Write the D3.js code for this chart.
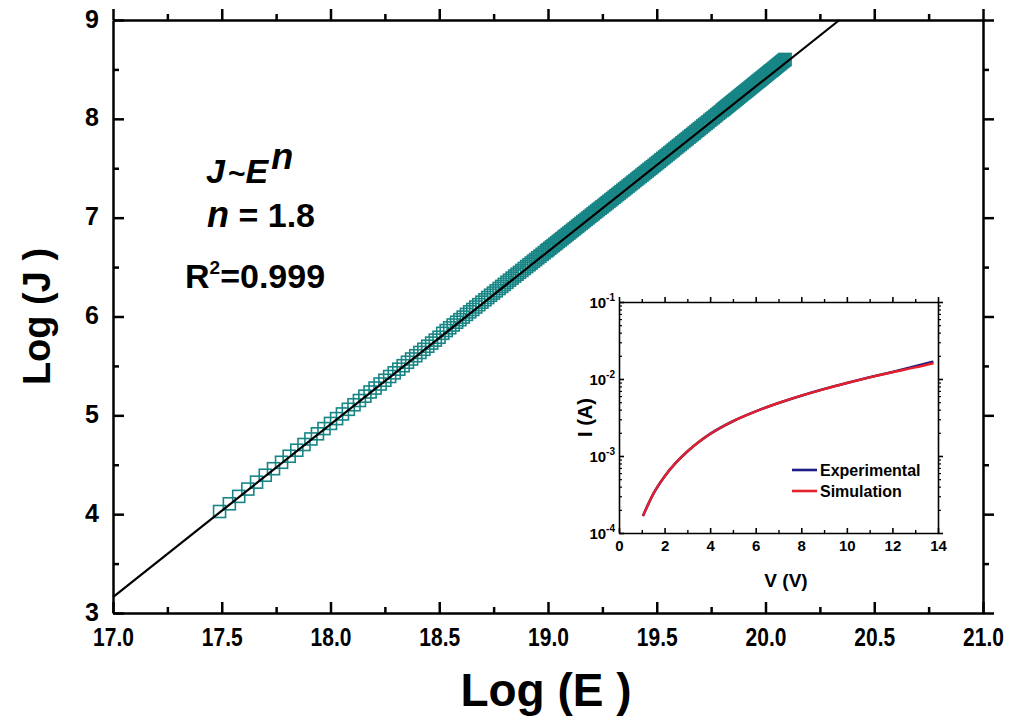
<!DOCTYPE html>
<html><head><meta charset="utf-8">
<script src="https://cdn.jsdelivr.net/npm/d3@7"></script>
<style>
body{margin:0;background:#fff}
svg{display:block}
text{font-family:"Liberation Sans",Arial,sans-serif;font-weight:bold;fill:#000}
</style>
</head><body>
<svg id="c" width="1019" height="719"></svg>
<script>
// ---------------- data ----------------
const logE = [
17.490,17.535,17.578,17.620,17.660,17.700,17.738,17.775,17.810,17.845,17.878,17.910,17.940,17.970,18.000,
18.028,18.055,18.082,18.108,18.133,18.158,18.182,18.205,18.228,18.250,18.272,18.293,18.314,18.334,18.354,
18.373,18.392,18.411,18.429,18.447,18.465,18.482,18.499,18.516,18.532,18.548,18.564,18.580,18.595,18.610,
18.625,18.640,18.654,18.668,18.682,18.696,18.710,18.723,18.736,18.749,18.762,18.775,18.787,18.799,18.811,
18.823,18.835,18.847,18.858,18.869,18.880,18.891,18.902,18.913,18.923,18.933,18.943,18.953,18.963,18.973,
18.983,18.993,
19.000,19.008,19.016,19.024,19.032,19.040,19.048,19.056,19.064,19.072,19.080,19.088,19.096,19.104,19.112,
19.120,19.128,19.136,19.144,19.152,19.160,19.168,19.176,19.184,19.192,19.200,19.208,19.216,19.224,19.232,
19.240,19.248,19.256,19.264,19.272,19.280,19.288,19.296,19.304,19.312,19.320,19.328,19.336,19.344,19.352,
19.360,19.368,19.376,19.384,19.392,19.400,19.408,19.416,19.424,19.432,19.440,19.448,19.456,19.464,19.472,
19.480,19.488,19.496,19.504,19.512,19.520,19.528,19.536,19.544,19.552,19.560,19.568,19.576,19.584,19.592,
19.600,19.608,19.616,19.624,19.632,19.640,19.648,19.656,19.664,19.672,19.680,19.688,19.696,19.704,19.712,
19.720,19.728,19.736,19.744,19.752,19.760,19.768,19.776,19.784,19.792,19.800,
19.805,19.810,19.815,19.820,19.825,19.830,19.835,19.840,19.845,19.850,19.855,19.860,19.865,19.870,19.875,
19.880,19.885,19.890,19.895,19.900,19.905,19.910,19.915,19.920,19.925,19.930,19.935,19.940,19.945,19.950,
19.955,19.960,19.965,19.970,19.975,19.980,19.985,19.990,19.995,20.000,20.005,20.010,20.015,20.020,20.025,
20.030,20.035,20.040,20.045,20.050,20.055,20.060,20.065,20.070,20.075,20.080,20.085,20.090
];
const logJ = [
4.027,4.105,4.180,4.254,4.324,4.394,4.460,4.525,4.586,4.647,4.705,4.761,4.813,4.866,4.918,
4.967,5.014,5.061,5.107,5.150,5.194,5.236,5.276,5.317,5.355,5.393,5.430,5.467,5.502,5.537,
5.570,5.603,5.636,5.668,5.699,5.731,5.761,5.790,5.830,5.858,5.886,5.914,5.942,5.968,5.994,
6.021,6.047,6.071,6.096,6.120,6.145,6.169,6.192,6.215,6.237,6.260,6.283,6.304,6.325,6.346,
6.367,6.388,6.409,6.428,6.447,6.466,6.486,6.505,6.524,6.541,6.559,6.576,6.594,6.611,6.629,
6.646,6.664,
6.676,6.690,6.704,6.718,6.732,6.746,6.760,6.774,6.788,6.802,6.816,6.830,6.844,6.858,6.872,
6.886,6.900,6.914,6.928,6.942,6.956,6.970,6.984,6.998,7.012,7.026,7.040,7.054,7.068,7.082,
7.096,7.109,7.123,7.137,7.151,7.165,7.179,7.193,7.207,7.221,7.235,7.249,7.263,7.277,7.291,
7.305,7.319,7.333,7.347,7.361,7.375,7.389,7.403,7.417,7.431,7.445,7.459,7.473,7.487,7.501,
7.515,7.529,7.543,7.557,7.571,7.586,7.600,7.614,7.628,7.643,7.657,7.671,7.685,7.700,7.714,
7.728,7.742,7.757,7.771,7.785,7.799,7.814,7.828,7.842,7.856,7.871,7.885,7.899,7.913,7.928,
7.942,7.956,7.970,7.985,7.999,8.013,8.027,8.042,8.056,8.070,8.084,
8.093,8.102,8.111,8.120,8.129,8.138,8.147,8.156,8.165,8.173,8.182,8.191,8.200,8.209,8.218,
8.227,8.236,8.245,8.254,8.263,8.271,8.280,8.289,8.298,8.307,8.316,8.325,8.334,8.343,8.352,
8.361,8.370,8.379,8.387,8.396,8.405,8.414,8.423,8.432,8.441,8.450,8.459,8.468,8.477,8.486,
8.494,8.503,8.512,8.521,8.530,8.539,8.548,8.557,8.566,8.575,8.584,8.593,8.601
];
const fitE = [17.0, 20.34];
const fitJ = [3.16, 9.0];
const xTicks = [17.0, 17.5, 18.0, 18.5, 19.0, 19.5, 20.0, 20.5, 21.0];
const xMinor = [17.25, 17.75, 18.25, 18.75, 19.25, 19.75, 20.25, 20.75];
const yTicks = [3, 4, 5, 6, 7, 8, 9];
const yMinor = [3.5, 4.5, 5.5, 6.5, 7.5, 8.5];

// inset I-V data
const insetV    = [1.05, 1.5, 2.0, 2.5, 3.0, 3.5, 4.0, 5.0, 6.0, 7.0, 8.0, 9.0, 10.0, 11.0, 12.0, 13.0, 13.8];
const insetIexp = [1.66e-4, 3.20e-4, 5.43e-4, 8.20e-4, 1.146e-3, 1.52e-3, 1.936e-3, 2.83e-3, 3.80e-3, 4.88e-3, 6.07e-3, 7.40e-3, 8.87e-3, 1.052e-2, 1.236e-2, 1.462e-2, 1.679e-2];
const insetIsim = [1.66e-4, 3.20e-4, 5.43e-4, 8.20e-4, 1.146e-3, 1.52e-3, 1.936e-3, 2.83e-3, 3.80e-3, 4.88e-3, 6.07e-3, 7.40e-3, 8.87e-3, 1.050e-2, 1.225e-2, 1.413e-2, 1.603e-2];
const insetXTicks = [0, 2, 4, 6, 8, 10, 12, 14];
const insetXMinor = [1, 3, 5, 7, 9, 11, 13];
const insetYExp = [-4, -3, -2, -1];
const legendLabels = ["Experimental", "Simulation"];
const legendColors = ["#1b1b8a", "#e4202a"];

// ---------------- drawing ----------------
const svg = d3.select("#c");
const x = d3.scaleLinear([17, 21], [113, 983]);
const y = d3.scaleLinear([3, 9], [613, 20]);

function styleAxis(g, w) {
  g.select(".domain").attr("stroke", "#000").attr("stroke-width", w);
  g.selectAll(".tick line").attr("stroke", "#000").attr("stroke-width", w);
}

// main axes
const gb = svg.append("g").attr("transform", `translate(0,${y(3)})`)
  .call(d3.axisBottom(x).tickValues(xTicks).tickSize(-11).tickSizeOuter(0).tickPadding(15).tickFormat(d3.format(".1f")));
styleAxis(gb, 2.5);
gb.selectAll("text").style("font-size", "25px").attr("fill", "#000").attr("transform", "scale(0.84,1)");
svg.append("g").attr("transform", `translate(0,${y(3)})`)
  .call(d3.axisBottom(x).tickValues(xMinor).tickSize(-6).tickFormat(""))
  .call(g => { g.select(".domain").remove(); styleAxis(g, 2.5); });

const gt = svg.append("g").attr("transform", `translate(0,${y(9)})`)
  .call(d3.axisTop(x).tickValues(xTicks).tickSize(11).tickSizeOuter(0).tickFormat(""));
styleAxis(gt, 2.5);
svg.append("g").attr("transform", `translate(0,${y(9)})`)
  .call(d3.axisTop(x).tickValues(xMinor).tickSize(6).tickFormat(""))
  .call(g => { g.select(".domain").remove(); styleAxis(g, 2.5); });

const gl = svg.append("g").attr("transform", `translate(${x(17)},0)`)
  .call(d3.axisLeft(y).tickValues(yTicks).tickSize(-11).tickSizeOuter(0).tickPadding(14).tickFormat(d3.format("d")));
styleAxis(gl, 2.5);
gl.selectAll("text").style("font-size", "25px").attr("fill", "#000").attr("dy", "0.28em");
svg.append("g").attr("transform", `translate(${x(17)},0)`)
  .call(d3.axisLeft(y).tickValues(yMinor).tickSize(-6).tickFormat(""))
  .call(g => { g.select(".domain").remove(); styleAxis(g, 2.5); });

const gr = svg.append("g").attr("transform", `translate(${x(21)},0)`)
  .call(d3.axisRight(y).tickValues(yTicks).tickSize(11).tickSizeOuter(0).tickFormat(""));
styleAxis(gr, 2.5);
svg.append("g").attr("transform", `translate(${x(21)},0)`)
  .call(d3.axisRight(y).tickValues(yMinor).tickSize(6).tickFormat(""))
  .call(g => { g.select(".domain").remove(); styleAxis(g, 2.5); });

// axis titles
svg.append("text").attr("x", 546).attr("y", 706)
  .attr("text-anchor", "middle").style("font-size", "46px").text("Log (E )");
svg.append("text")
  .attr("transform", `translate(50,${(y(3)+y(9))/2}) rotate(-90)`)
  .attr("text-anchor", "middle").style("font-size", "38px").text("Log (J )");

// data markers
const pts = logE.map((e, i) => [e, logJ[i]]);
const ms = 12;
svg.append("g").selectAll("rect").data(pts).join("rect")
  .attr("x", d => x(d[0]) - ms/2).attr("y", d => y(d[1]) - ms/2)
  .attr("width", ms).attr("height", ms)
  .attr("fill", "none").attr("stroke", "#178585").attr("stroke-width", 1.6);

// fit line
svg.append("path").datum(fitE.map((e, i) => [e, fitJ[i]]))
  .attr("d", d3.line().x(d => x(d[0])).y(d => y(d[1])))
  .attr("fill", "none").attr("stroke", "#000").attr("stroke-width", 2.2);

// annotations
const a1 = svg.append("text").attr("x", 206).attr("y", 183).style("font-size", "34px");
a1.append("tspan").style("font-style", "italic").text("J");
a1.append("tspan").style("font-size", "30px").attr("dx", 3).attr("dy", 1).text("~");
a1.append("tspan").style("font-style", "italic").attr("dy", -1).text("E");
a1.append("tspan").style("font-style", "italic").style("font-size", "36px").attr("dy", -14).attr("dx", 3).text("n");
const a2 = svg.append("text").attr("x", 207).attr("y", 227).style("font-size", "34px");
a2.append("tspan").style("font-style", "italic").style("font-size", "36px").text("n");
a2.append("tspan").text(" = 1.8");
const a3 = svg.append("text").attr("x", 185).attr("y", 288).style("font-size", "34px");
a3.append("tspan").text("R");
a3.append("tspan").style("font-size", "19px").attr("dy", -14).text("2");
a3.append("tspan").attr("dy", 14).text("=0.999");

// ---------------- inset ----------------
const xi = d3.scaleLinear([0, 14], [619, 938]);
const yi = d3.scaleLog([1e-4, 1e-1], [533, 302]);
const minorLog = [];
[-4, -3, -2].forEach(p => { for (let k = 2; k <= 9; k++) minorLog.push(k * Math.pow(10, p)); });

const ib = svg.append("g").attr("transform", `translate(0,${yi(1e-4)})`)
  .call(d3.axisBottom(xi).tickValues(insetXTicks).tickSize(-5).tickSizeOuter(0).tickPadding(7).tickFormat(d3.format("d")));
styleAxis(ib, 1.6);
ib.selectAll("text").style("font-size", "15px").attr("fill", "#000");
svg.append("g").attr("transform", `translate(0,${yi(1e-4)})`)
  .call(d3.axisBottom(xi).tickValues(insetXMinor).tickSize(-3).tickFormat(""))
  .call(g => { g.select(".domain").remove(); styleAxis(g, 1.4); });
const it = svg.append("g").attr("transform", `translate(0,${yi(1e-1)})`)
  .call(d3.axisTop(xi).tickValues(insetXTicks).tickSize(5).tickSizeOuter(0).tickFormat(""));
styleAxis(it, 1.6);
svg.append("g").attr("transform", `translate(0,${yi(1e-1)})`)
  .call(d3.axisTop(xi).tickValues(insetXMinor).tickSize(3).tickFormat(""))
  .call(g => { g.select(".domain").remove(); styleAxis(g, 1.4); });

const il = svg.append("g").attr("transform", `translate(${xi(0)},0)`)
  .call(d3.axisLeft(yi).tickValues(insetYExp.map(p => Math.pow(10, p))).tickSize(-5).tickSizeOuter(0).tickFormat(""));
styleAxis(il, 1.6);
svg.append("g").attr("transform", `translate(${xi(0)},0)`)
  .call(d3.axisLeft(yi).tickValues(minorLog).tickSize(-3).tickFormat(""))
  .call(g => { g.select(".domain").remove(); styleAxis(g, 1.2); });
const ir = svg.append("g").attr("transform", `translate(${xi(14)},0)`)
  .call(d3.axisRight(yi).tickValues(insetYExp.map(p => Math.pow(10, p))).tickSize(5).tickSizeOuter(0).tickFormat(""));
styleAxis(ir, 1.6);
svg.append("g").attr("transform", `translate(${xi(14)},0)`)
  .call(d3.axisRight(yi).tickValues(minorLog).tickSize(3).tickFormat(""))
  .call(g => { g.select(".domain").remove(); styleAxis(g, 1.2); });

// inset y tick labels with superscripts
const yl = svg.append("g").selectAll("text").data(insetYExp).join("text")
  .attr("x", xi(0) - 4).attr("y", p => yi(Math.pow(10, p)) + 6)
  .attr("text-anchor", "end").style("font-size", "15px");
yl.append("tspan").text("10");
yl.append("tspan").style("font-size", "10px").attr("dy", -7).text(p => String(p));

// inset titles
svg.append("text").attr("x", 786).attr("y", 587).attr("text-anchor", "middle")
  .style("font-size", "19px").text("V (V)");
svg.append("text").attr("transform", `translate(592,${(yi(1e-4)+yi(1e-1))/2}) rotate(-90)`)
  .attr("text-anchor", "middle").style("font-size", "20px").text("I (A)");

// inset curves
const iline = d3.line().curve(d3.curveMonotoneX).x(d => xi(d[0])).y(d => yi(d[1]));
svg.append("path").datum(insetV.map((v, i) => [v, insetIexp[i]]))
  .attr("d", iline).attr("fill", "none").attr("stroke", legendColors[0]).attr("stroke-width", 2.6);
svg.append("path").datum(insetV.map((v, i) => [v, insetIsim[i]]))
  .attr("d", iline).attr("fill", "none").attr("stroke", legendColors[1]).attr("stroke-width", 2.4);

// legend
const lg = svg.append("g").selectAll("g").data(legendLabels).join("g")
  .attr("transform", (d, i) => `translate(792,${470 + i * 21})`);
lg.append("line").attr("x1", 0).attr("x2", 25).attr("y1", 0).attr("y2", 0)
  .attr("stroke", (d, i) => legendColors[i]).attr("stroke-width", 2.6);
lg.append("text").attr("x", 28).attr("y", 6).style("font-size", "16px").text(d => d);
</script>
</body></html>
